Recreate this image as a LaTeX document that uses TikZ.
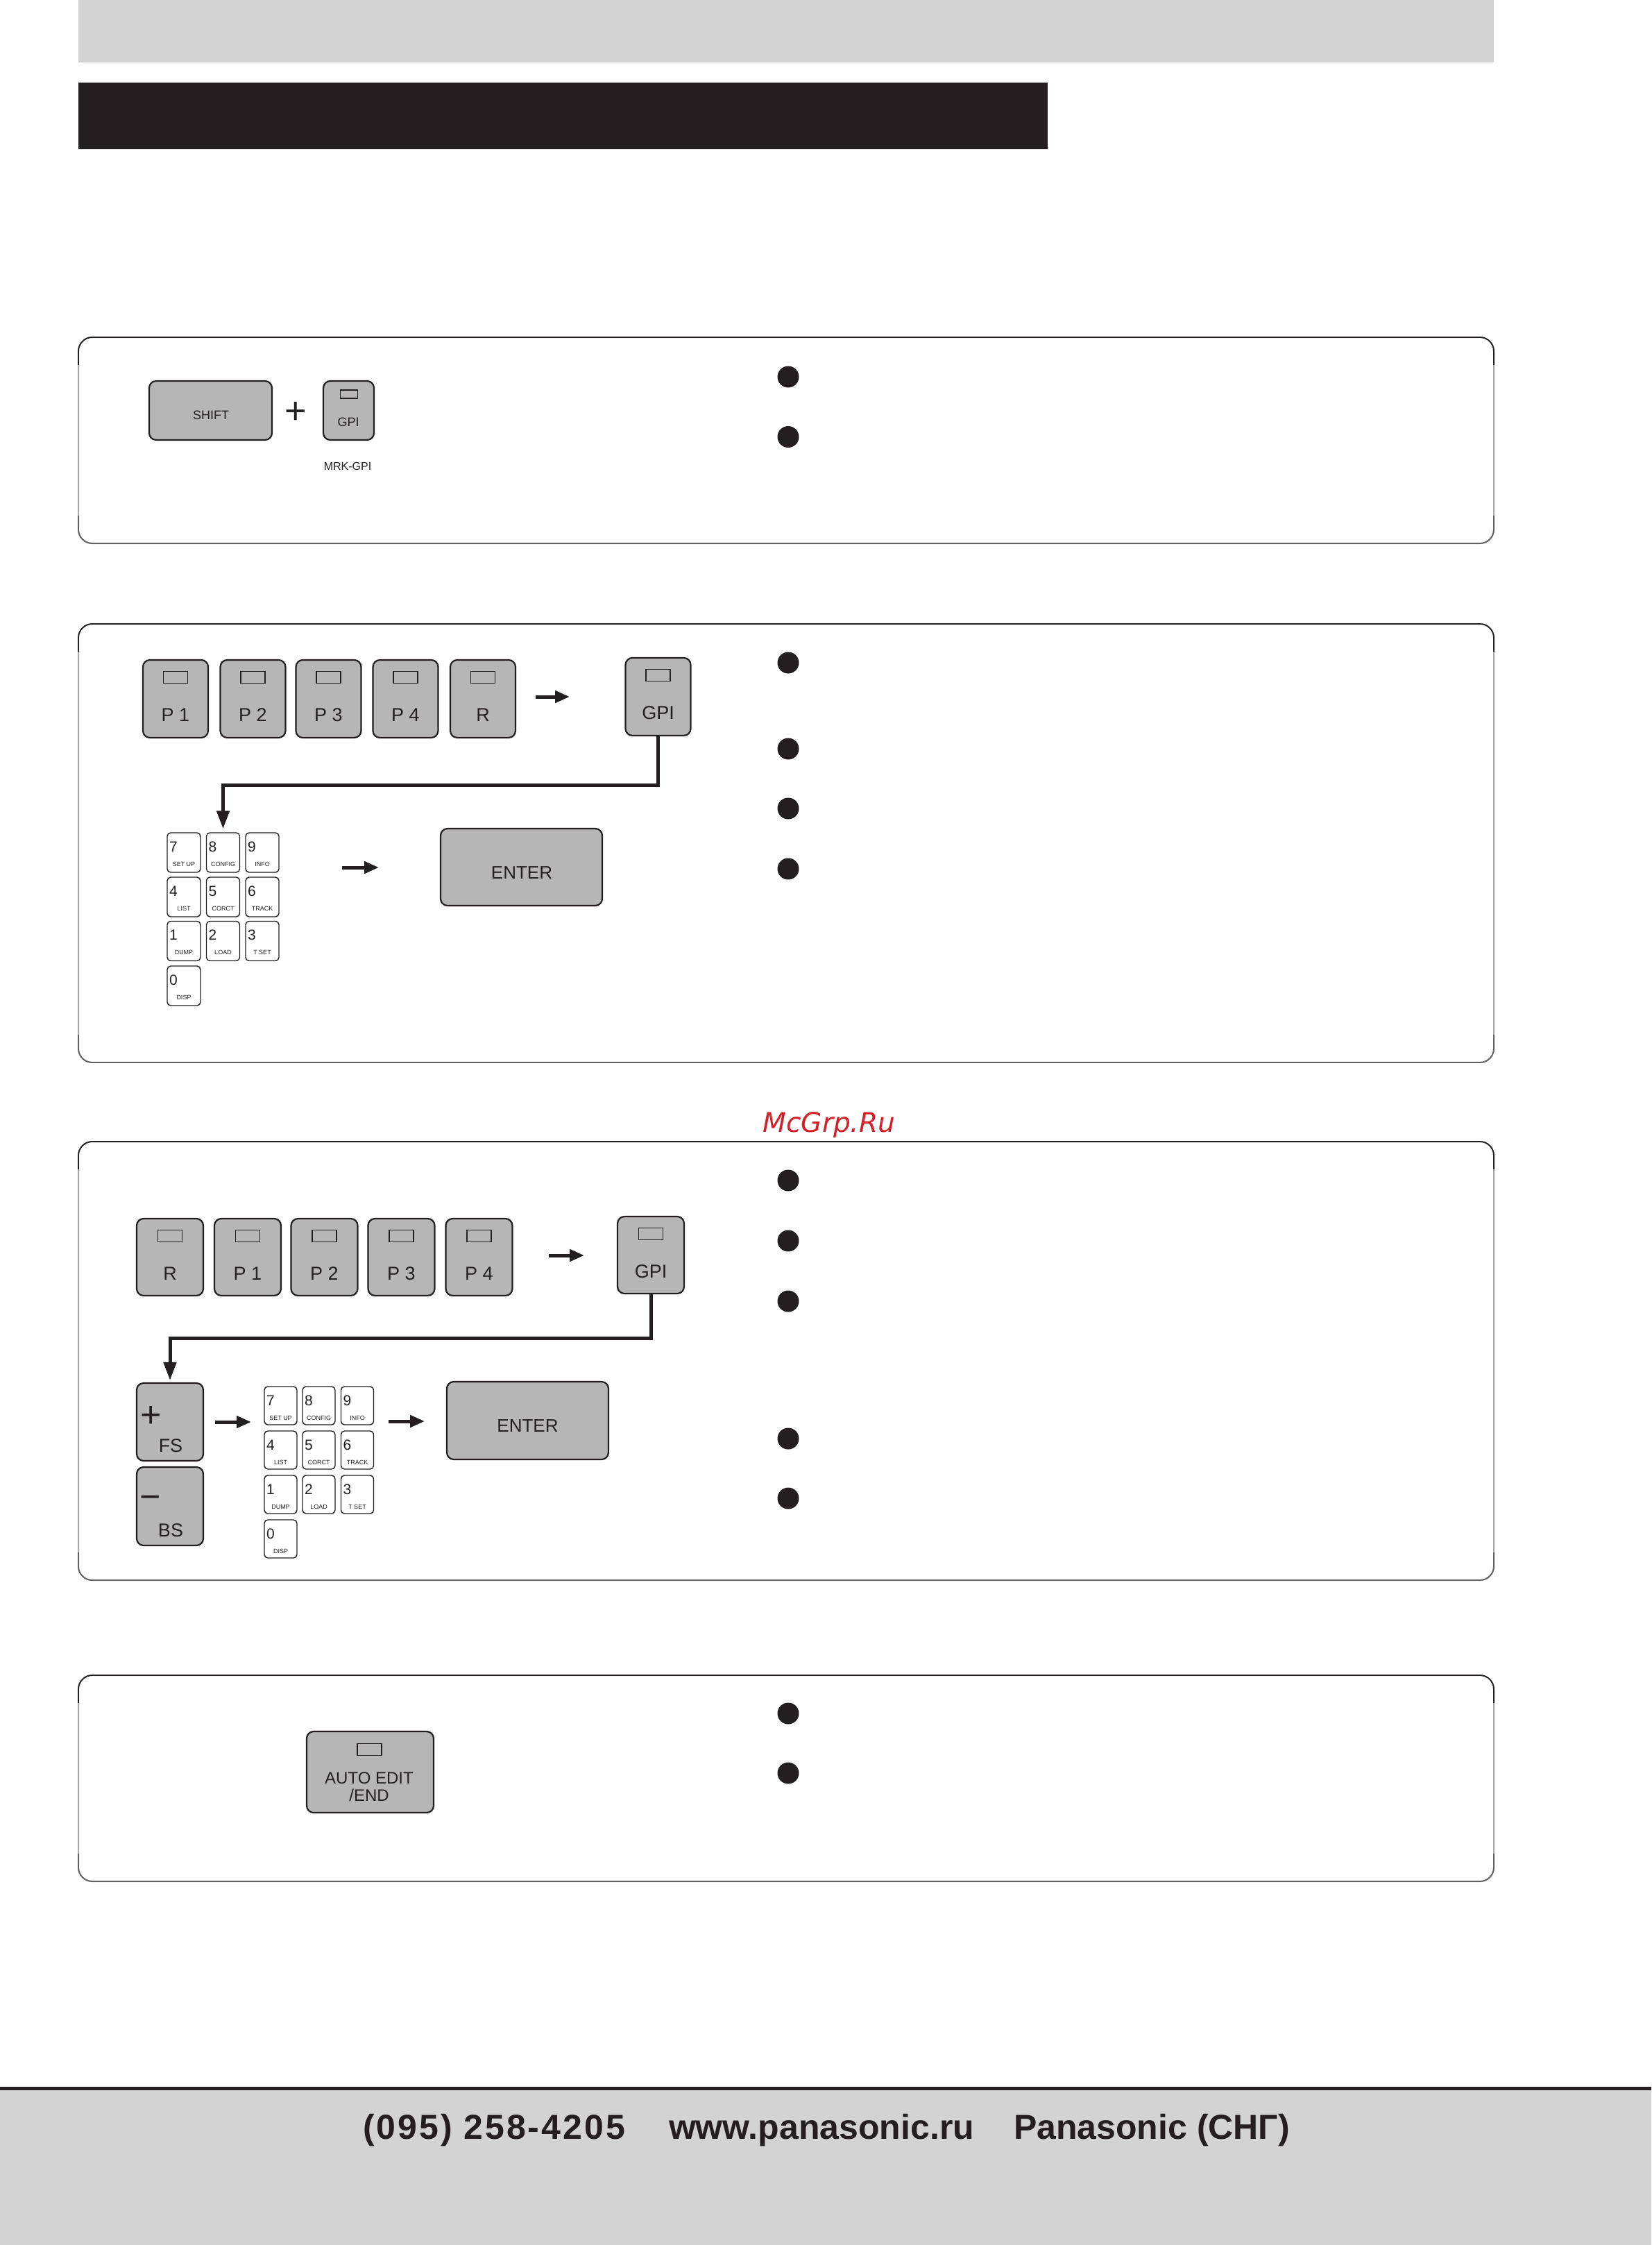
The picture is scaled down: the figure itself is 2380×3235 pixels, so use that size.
\documentclass[tikz,border=0pt]{standalone}
\usepackage{fontspec}
\setmainfont{Liberation Sans}
\newfontfamily\wmfont{DejaVu Sans}
\newfontfamily\phonefont[LetterSpace=6]{Liberation Sans}
\usetikzlibrary{arrows.meta,calc}
\definecolor{ink}{RGB}{35,31,32}
\definecolor{barg}{RGB}{211,211,211}
\definecolor{keyg}{RGB}{182,182,182}
\definecolor{wmred}{RGB}{212,32,40}
\newcommand\fsz[1]{\fontsize{#1pt}{#1pt}\selectfont}
\tikzset{
  pkbox/.style={draw=ink, line width=2.2pt, fill=keyg, rounded corners=10pt, inner sep=0pt},
  ledbox/.style={draw=ink, line width=1.8pt, fill=keyg, minimum width=35pt, minimum height=17pt, inner sep=0pt},
  nkbox/.style={draw=ink, line width=1.4pt, fill=white, rounded corners=5pt, inner sep=0pt},
  pklabel/.style={font=\fsz{27}, text=ink, inner sep=0pt},
  nkdigit/.style={font=\fsz{21}, text=ink, inner sep=0pt},
  nklabel/.style={font=\fsz{9}, text=ink, inner sep=0pt},
  signlabel/.style={font=\fsz{52}, text=ink, inner sep=0pt},
  bulletdot/.style={circle, fill=ink, minimum size=31pt, inner sep=0pt},
  conn/.style={draw=ink, line width=5pt, -{Triangle[length=26pt,width=18pt]}},
  sarrow/.style={draw=ink, line width=5pt, -{Triangle[length=21pt,width=17pt]}},
  footer/.style={font=\bfseries\fsz{50}, text=ink, inner sep=0pt, anchor=base},
}
% panel frame: top, bottom
\newcommand\panelframe[2]{%
  \draw[black!35, line width=2pt, rounded corners=20pt] (113,#1) rectangle (2153,#2);
  \draw[black!62, line width=1.8pt, rounded corners=20pt] (113,{#2-40}) -- (113,#2) -- (2153,#2) -- (2153,{#2-40});
  \draw[ink, line width=1.8pt, rounded corners=20pt] (113,{#1+40}) -- (113,#1) -- (2153,#1) -- (2153,{#1+40});
}
% program key: name, cx, top, w, h, label
\newcommand\pkey[6]{%
  \node[pkbox, minimum width=#4pt, minimum height=#5pt] (#1) at ({#2},{#3+#5/2}) {};
  \node[ledbox] (#1-led) at ({#2},{#3+25}) {};
  \node[pklabel] (#1-txt) at ({#2},{#3+79}) {#6};
}
% numeric key: name, left, top, w, h, digit, label
\newcommand\nkey[7]{%
  \node[nkbox, minimum width=#4pt, minimum height=#5pt] (#1) at ({#2+#4/2},{#3+#5/2}) {};
  \node[nkdigit, anchor=base west] (#1-d) at ({#2+3},{#3+27}) {#6};
  \node[nklabel, anchor=base] (#1-l) at ({#2+#4/2},{#3+48}) {#7};
}
\begin{document}
\begin{tikzpicture}[x=1pt,y=-1pt]
\useasboundingbox (0,0) rectangle (2380,3235);
\fill[white] (0,0) rectangle (2380,3235);
% header bars
\fill[barg] (113,0) rectangle (2153,90);
\fill[ink] (113,119) rectangle (1510,215);

% panels
\panelframe{486}{783}
\panelframe{899}{1531}
\panelframe{1645}{2277}
\panelframe{2414}{2711}

% ---------- panel 1 ----------
\node[pkbox, minimum width=177pt, minimum height=85pt] (shift) at (303.5,591.5) {};
\node[pklabel, font=\fsz{18}] (shift-txt) at (304,598) {SHIFT};
\node[signlabel, font=\fsz{54}, anchor=base] (plus1) at (426,610) {+};
\node[pkbox, minimum width=73pt, minimum height=85pt] (g1) at (502.5,591.5) {};
\node[ledbox, minimum width=25pt, minimum height=12pt, line width=1.5pt] (g1-led) at (503,568) {};
\node[pklabel, font=\fsz{18}] (g1-txt) at (502,608) {GPI};
\node[pklabel, font=\fsz{16}] (mrk) at (501,672) {MRK-GPI};
\node[bulletdot] (b11) at (1136,543) {};
\node[bulletdot] (b12) at (1136,629.5) {};

% ---------- panel 2 ----------
\pkey{p2a}{253}{951}{94}{112}{P 1}
\pkey{p2b}{364.5}{951}{94}{112}{P 2}
\pkey{p2c}{473.5}{951}{94}{112}{P 3}
\pkey{p2d}{584.5}{951}{94}{112}{P 4}
\pkey{p2e}{696}{951}{94}{112}{R}
\pkey{g2}{948.5}{948}{94}{112}{GPI}
\coordinate (a21s) at (772,1004);
\coordinate (a21e) at (821,1004);
\draw[sarrow] (a21s) -- (a21e);

\nkey{k2-7}{241}{1200}{48}{57}{7}{SET UP}
\nkey{k2-8}{297.5}{1200}{48}{57}{8}{CONFIG}
\nkey{k2-9}{354}{1200}{48}{57}{9}{INFO}
\nkey{k2-4}{241}{1264}{48}{57}{4}{LIST}
\nkey{k2-5}{297.5}{1264}{48}{57}{5}{CORCT}
\nkey{k2-6}{354}{1264}{48}{57}{6}{TRACK}
\nkey{k2-1}{241}{1327.5}{48}{57}{1}{DUMP}
\nkey{k2-2}{297.5}{1327.5}{48}{57}{2}{LOAD}
\nkey{k2-3}{354}{1327.5}{48}{57}{3}{T SET}
\nkey{k2-0}{241}{1392}{48}{57}{0}{DISP}

\draw[conn, shorten >=5pt] (g2.south) -- ++(0,70) -| (k2-8.north);

\coordinate (a22s) at (493,1250);
\coordinate (a22e) at (546,1250);
\draw[sarrow] (a22s) -- (a22e);
\node[pkbox, minimum width=233pt, minimum height=111pt] (ent2) at (751.5,1249.5) {};
\node[pklabel, font=\fsz{26}] (ent2-txt) at (752,1258) {ENTER};

\node[bulletdot] (b21) at (1136,955) {};
\node[bulletdot] (b22) at (1136,1079) {};
\node[bulletdot] (b23) at (1136,1165) {};
\node[bulletdot] (b24) at (1136,1252) {};

% watermark
\node[font=\wmfont\itshape\fsz{39}, text=wmred, anchor=base, inner sep=0pt] (wm) at (1195,1631) {McGrp.Ru};

% ---------- panel 3 ----------
\pkey{p3a}{245}{1756}{96}{111}{R}
\pkey{p3b}{357}{1756}{96}{111}{P 1}
\pkey{p3c}{467.5}{1756}{96}{111}{P 2}
\pkey{p3d}{578.5}{1756}{96}{111}{P 3}
\pkey{p3e}{690.5}{1756}{96}{111}{P 4}
\pkey{g3}{938}{1753}{96}{111}{GPI}
\coordinate (a31s) at (791,1809);
\coordinate (a31e) at (842,1809);
\draw[sarrow] (a31s) -- (a31e);

\node[pkbox, minimum width=96pt, minimum height=112pt] (fs) at (245,2049) {};
\node[pklabel] (fs-txt) at (246,2083) {FS};
\node[signlabel, anchor=base] (fs-sign) at (218,2056) {+};
\node[pkbox, minimum width=96pt, minimum height=113pt] (bs) at (245,2170.5) {};
\node[pklabel] (bs-txt) at (246,2205) {BS};
\node[signlabel, anchor=base] (bs-sign) at (217,2174) {−};

\draw[conn, shorten >=3pt] (g3.south) -- ++(0,63) -| (fs.north);

\coordinate (a32s) at (310,2049);
\coordinate (a32e) at (362,2049);
\draw[sarrow] (a32s) -- (a32e);

\nkey{k3-7}{381}{1998}{47}{55}{7}{SET UP}
\nkey{k3-8}{436}{1998}{47}{55}{8}{CONFIG}
\nkey{k3-9}{491.5}{1998}{47}{55}{9}{INFO}
\nkey{k3-4}{381}{2062}{47}{55}{4}{LIST}
\nkey{k3-5}{436}{2062}{47}{55}{5}{CORCT}
\nkey{k3-6}{491.5}{2062}{47}{55}{6}{TRACK}
\nkey{k3-1}{381}{2126}{47}{55}{1}{DUMP}
\nkey{k3-2}{436}{2126}{47}{55}{2}{LOAD}
\nkey{k3-3}{491.5}{2126}{47}{55}{3}{T SET}
\nkey{k3-0}{381}{2190}{47}{55}{0}{DISP}

\coordinate (a33s) at (560,2048);
\coordinate (a33e) at (612,2048);
\draw[sarrow] (a33s) -- (a33e);
\node[pkbox, minimum width=233pt, minimum height=112pt] (ent3) at (760.5,2047) {};
\node[pklabel, font=\fsz{26}] (ent3-txt) at (760.5,2055) {ENTER};

\node[bulletdot] (b31) at (1136,1701) {};
\node[bulletdot] (b32) at (1136,1788) {};
\node[bulletdot] (b33) at (1136,1875) {};
\node[bulletdot] (b34) at (1136,2073) {};
\node[bulletdot] (b35) at (1136,2159) {};

% ---------- panel 4 ----------
\node[pkbox, minimum width=183pt, minimum height=117pt] (ae) at (533.5,2553.5) {};
\node[ledbox] (ae-led) at (532.5,2521) {};
\node[pklabel, font=\fsz{24}, anchor=base] (ae-t1) at (532,2570) {AUTO EDIT};
\node[pklabel, font=\fsz{24}, anchor=base] (ae-t2) at (532,2595) {/END};
\node[bulletdot] (b41) at (1136,2469) {};
\node[bulletdot] (b42) at (1136,2555) {};

% ---------- footer ----------
\fill[barg] (0,3010) rectangle (2380,3235);
\fill[ink] (0,3007) rectangle (2380,3012);
\node[footer, font=\phonefont\bfseries\fsz{50}] (foot1) at (712,3082) {(095) 258-4205};
\node[footer] (foot2) at (1184,3082) {www.panasonic.ru};
\node[footer] (foot3) at (1660,3082) {Panasonic (СНГ)};
\end{tikzpicture}
\end{document}
